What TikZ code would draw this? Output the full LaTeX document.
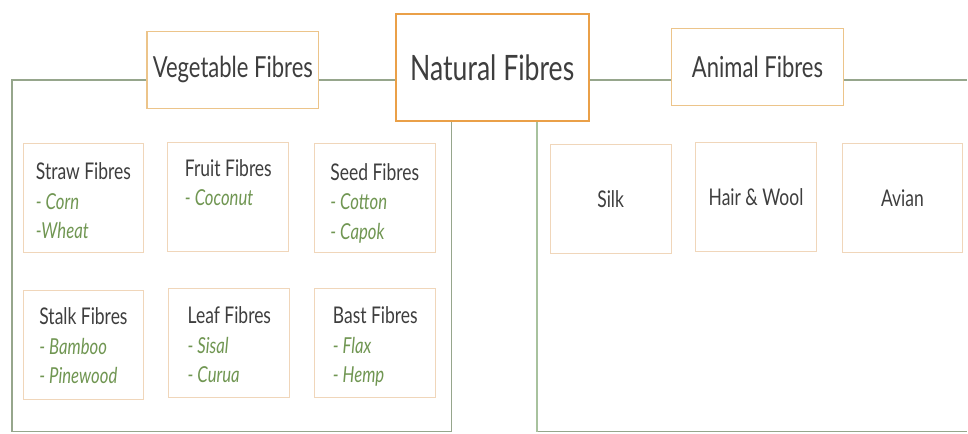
\documentclass[tikz,border=0pt]{standalone}
\usepackage{fontspec}
\setmainfont[FakeStretch=0.76]{Lato}
\usepackage{tikz}
\usetikzlibrary{positioning}
\usepackage{xcolor}

\definecolor{fibreorange}{RGB}{234,160,72}
\definecolor{groupborder}{RGB}{236,196,138}
\definecolor{kindborder}{RGB}{240,214,186}
\definecolor{busgray}{RGB}{150,166,140}
\definecolor{busgreen}{RGB}{168,194,158}
\definecolor{fibretext}{RGB}{62,62,62}
\definecolor{fibregreen}{RGB}{112,150,82}

\newcommand{\fibrekind}[1]{{\color{fibregreen}\fontsize{22}{29.5}\selectfont\itshape #1}}

\begin{document}
\begin{tikzpicture}[
	x=1pt, y=-1pt,
	every node/.style={font=\fontsize{23}{29.5}\selectfont, text=fibretext},
	main box/.style={draw=fibreorange, line width=1.8pt, fill=white, minimum width=193pt, minimum height=107pt, font=\fontsize{35}{38}\selectfont},
	group box/.style={draw=groupborder, line width=1.3pt, fill=white, minimum width=172pt, minimum height=77pt, font=\fontsize{29}{32}\selectfont},
	kind box/.style={draw=kindborder, line width=0.9pt, fill=white, minimum width=121pt, minimum height=109pt},
	kind text/.style={align=left, inner sep=0pt},
	bus line/.style={draw=busgray, line width=1.2pt},
	animal line/.style={draw=busgreen, line width=2pt}
	]
	\fill[white] (0,0) rectangle (968,434);

	% =====================================================
	% TOP ROW
	% =====================================================
	\node[main box] (natural) at (492.5,67.5) {Natural Fibres};
	\node[group box] (vegetable) at (233,70) {Vegetable Fibres};
	\node[group box] (animal) at (758,67) {Animal Fibres};

	\coordinate (bus) at (0,80);
	\coordinate (leftcorner) at (12,80);
	\coordinate (leftfoot) at (12,432);
	\coordinate (vegfoot) at (452,432);
	\coordinate (animalfoot) at (537,432);
	\coordinate (rightend) at (968,80);
	\coordinate (rightfoot) at (968,432);

	% =====================================================
	% GROUP LINES
	% =====================================================
	\draw[bus line] (vegetable.east |- bus) -- (natural.west |- bus);
	\draw[bus line] (natural.east |- bus) -- (animal.west |- bus);
	\draw[bus line] (animal.east |- bus) -- (rightend);
	\draw[bus line] (vegetable.west |- bus) -- (leftcorner) -- (leftfoot) -- (vegfoot) -- (natural.south -| vegfoot);
	\draw[bus line] (animalfoot) -- (rightfoot);
	\draw[animal line] (natural.south -| animalfoot) -- (animalfoot);

	% =====================================================
	% VEGETABLE FIBRES
	% =====================================================
	\node[kind box] (straw) at (83.5,198.5) {};
	\node[kind box] (fruit) at (228.5,197) {};
	\node[kind box] (seed) at (375,198) {};
	\node[kind box] (stalk) at (83.5,345) {};
	\node[kind box] (leaf) at (229.5,343) {};
	\node[kind box] (bast) at (375.5,343) {};

	\node[kind text, below=19pt of straw.north] (strawtext) {Straw Fibres\\\fibrekind{- Corn}\\\fibrekind{-Wheat}};
	\node[kind text, below=17pt of fruit.north] (fruittext) {Fruit Fibres\\\fibrekind{- Coconut}};
	\node[kind text, below=20pt of seed.north] (seedtext) {Seed Fibres\\\fibrekind{- Cotton}\\\fibrekind{- Capok}};
	\node[kind text, below=18pt of stalk.north] (stalktext) {Stalk Fibres\\\fibrekind{- Bamboo}\\\fibrekind{- Pinewood}};
	\node[kind text, below=19pt of leaf.north] (leaftext) {Leaf Fibres\\\fibrekind{- Sisal}\\\fibrekind{- Curua}};
	\node[kind text, below=19pt of bast.north] (basttext) {Bast Fibres\\\fibrekind{- Flax}\\\fibrekind{- Hemp}};

	% =====================================================
	% ANIMAL FIBRES
	% =====================================================
	\node[kind box] (silk) at (611,199.5) {Silk};
	\node[kind box] (hairwool) at (756.5,197.5) {Hair \& Wool};
	\node[kind box] (avian) at (903,198) {Avian};

\end{tikzpicture}
\end{document}
